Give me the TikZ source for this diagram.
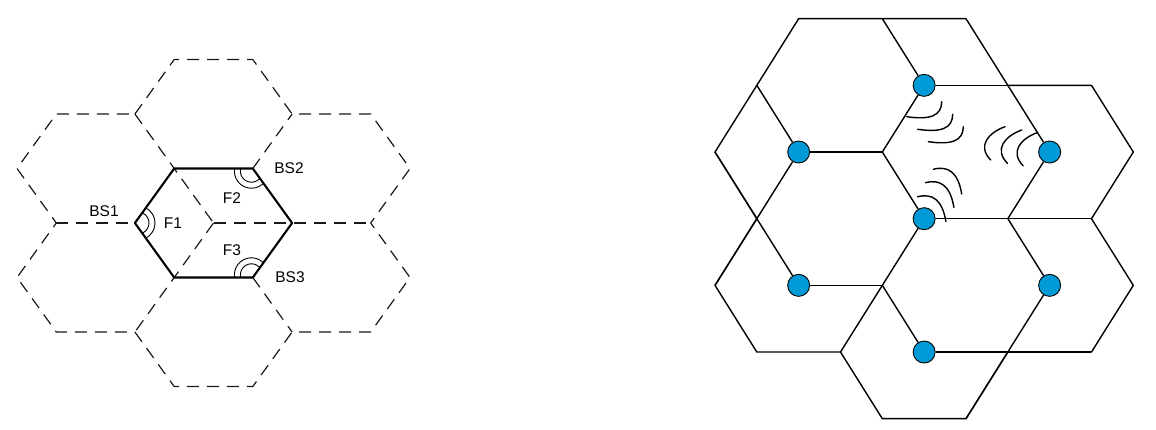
\documentclass[tikz,border=0pt]{standalone}
\usepackage{fontspec}
\setmainfont{Liberation Sans}
\usetikzlibrary{calc}
\definecolor{bsblue}{RGB}{0,155,215}
\definecolor{dashgray}{RGB}{25,25,25}
\begin{document}
\begin{tikzpicture}[x=1pt,y=-1pt,
  dline/.style={draw=dashgray,line width=1.2pt,dash pattern=on 12pt off 8pt},
  thickline/.style={draw=black,line width=2.1pt,line join=round},
  lbl/.style={font=\fontsize{15.5}{18}\selectfont,inner sep=0pt},
  cellline/.style={draw=black,line width=1.4pt,line join=round},
  bs/.style={circle,draw=black,line width=0.9pt,fill=bsblue,minimum size=22pt,inner sep=0pt},
  wave/.style={draw=black,line width=1.4pt,line cap=round},
  antarc/.style={draw=black,line width=0.9pt}]
\useasboundingbox (0,0) rectangle (1156,429);
\foreach \k in {0,...,10}{\foreach \j in {0,...,6}{
  \coordinate (l\k-\j) at ({17+39.3*\k},{59.5+54.5*\j});
  \coordinate (r\k-\j) at ({715+41.83*\k},{18.67+66.67*\j});
}}
% ---------- left diagram ----------
\draw[dline] (l3-1) -- (l4-0) -- (l6-0) -- (l7-1) -- (l9-1) -- (l10-2) -- (l9-3) -- (l10-4) -- (l9-5) -- (l7-5) -- (l6-6) -- (l4-6) -- (l3-5) -- (l1-5) -- (l0-4) -- (l1-3) -- (l0-2) -- (l1-1) -- cycle;
\draw[dline] (l3-1) -- (l5-3);
\draw[dline] (l6-2) -- (l7-1);
\draw[dline] (l1-3) -- (l3-3);
\draw[dline] (l5-3) -- (l9-3);
\draw[dline] (l5-3) -- (l3-5);
\draw[dline] (l6-4) -- (l7-5);
\draw[thickline] (l3-3) -- (l4-2) -- (l6-2) -- (l7-3) -- (l6-4) -- (l4-4) -- cycle;
% antenna arcs
\foreach \v/\b/\sp/\so in {l3-3/0/66/62, l6-2/117.1/75/71, l6-4/242.9/75/71}{
  \path (\v) ++(\b:3) coordinate (cc);
  \pgfmathsetmacro\sa{\b-\sp}\pgfmathsetmacro\ea{\b+\sp}
  \draw[antarc,shift={(cc)}] plot[domain=\sa:\ea,samples=30,smooth] (\x:11);
  \pgfmathsetmacro\sb{\b-\so}\pgfmathsetmacro\eb{\b+\so}
  \draw[antarc,shift={(cc)}] plot[domain=\sb:\eb,samples=30,smooth] (\x:17);
}
\node[lbl] (bs1) at (104,211) {BS1};
\node[lbl] (f1) at (173,223) {F1};
\node[lbl] (f2) at (232,198) {F2};
\node[lbl] (f3) at (232,250) {F3};
\node[lbl] (bs2) at (289,168) {BS2};
\node[lbl] (bs3) at (290,277) {BS3};
% ---------- right diagram ----------
\node[bs] (d1) at (r5-1) {};
\node[bs] (d2) at (r2-2) {};
\node[bs] (d3) at (r8-2) {};
\node[bs] (d4) at (r5-3) {};
\node[bs] (d5) at (r2-4) {};
\node[bs] (d6) at (r8-4) {};
\node[bs] (d7) at (r5-5) {};
\draw[cellline] (r2-0) -- (r4-0) -- (r6-0) -- (r7-1) -- (r9-1) -- (r10-2) -- (r9-3) -- (r10-4) -- (r9-5) -- (r7-5) -- (r6-6) -- (r4-6) -- (r3-5) -- (r1-5) -- (r0-4) -- (r1-3) -- (r0-2) -- (r1-1) -- cycle;
\draw[cellline] (r4-0) -- (d1);
\draw[cellline] (d1) -- (r9-1);
\draw[cellline] (r7-1) -- (d3);
\draw[cellline] (d1) -- (r4-2);
\draw[cellline] (r1-1) -- (d2);
\draw[cellline] (d2) -- (r4-2);
\draw[cellline] (d2) -- (r0-4);
\draw[cellline] (r0-2) -- (d5);
\draw[cellline] (r4-2) -- (d4);
\draw[cellline] (d4) -- (r9-3);
\draw[cellline] (d3) -- (r7-3);
\draw[cellline] (r7-3) -- (d6);
\draw[cellline] (d4) -- (r3-5);
\draw[cellline] (d5) -- (r4-4);
\draw[cellline] (r4-4) -- (d7);
\draw[cellline] (d7) -- (r9-5);
\draw[cellline] (d6) -- (r6-6);
% radio waves
\foreach \dx/\dy in {0/0,11/12.6,21.6/25}
  \draw[wave,shift={(\dx,\dy)}] (906.7,116.7) .. controls (930,120) and (941.5,116) .. (941.7,101.7);
\foreach \dx/\dy in {0/0,16.7/3.3,32.5/5.8}
  \draw[wave,shift={(\dx,\dy)}] (1005,126.7) .. controls (988,133) and (977,146) .. (990.7,160);
\foreach \dx/\dy in {0/0,-7.8/13.4,-15.8/27.5}
  \draw[wave,shift={(\dx,\dy)}] (933.3,169.3) .. controls (948,165.5) and (958,172) .. (961.7,194);
\end{tikzpicture}
\end{document}
